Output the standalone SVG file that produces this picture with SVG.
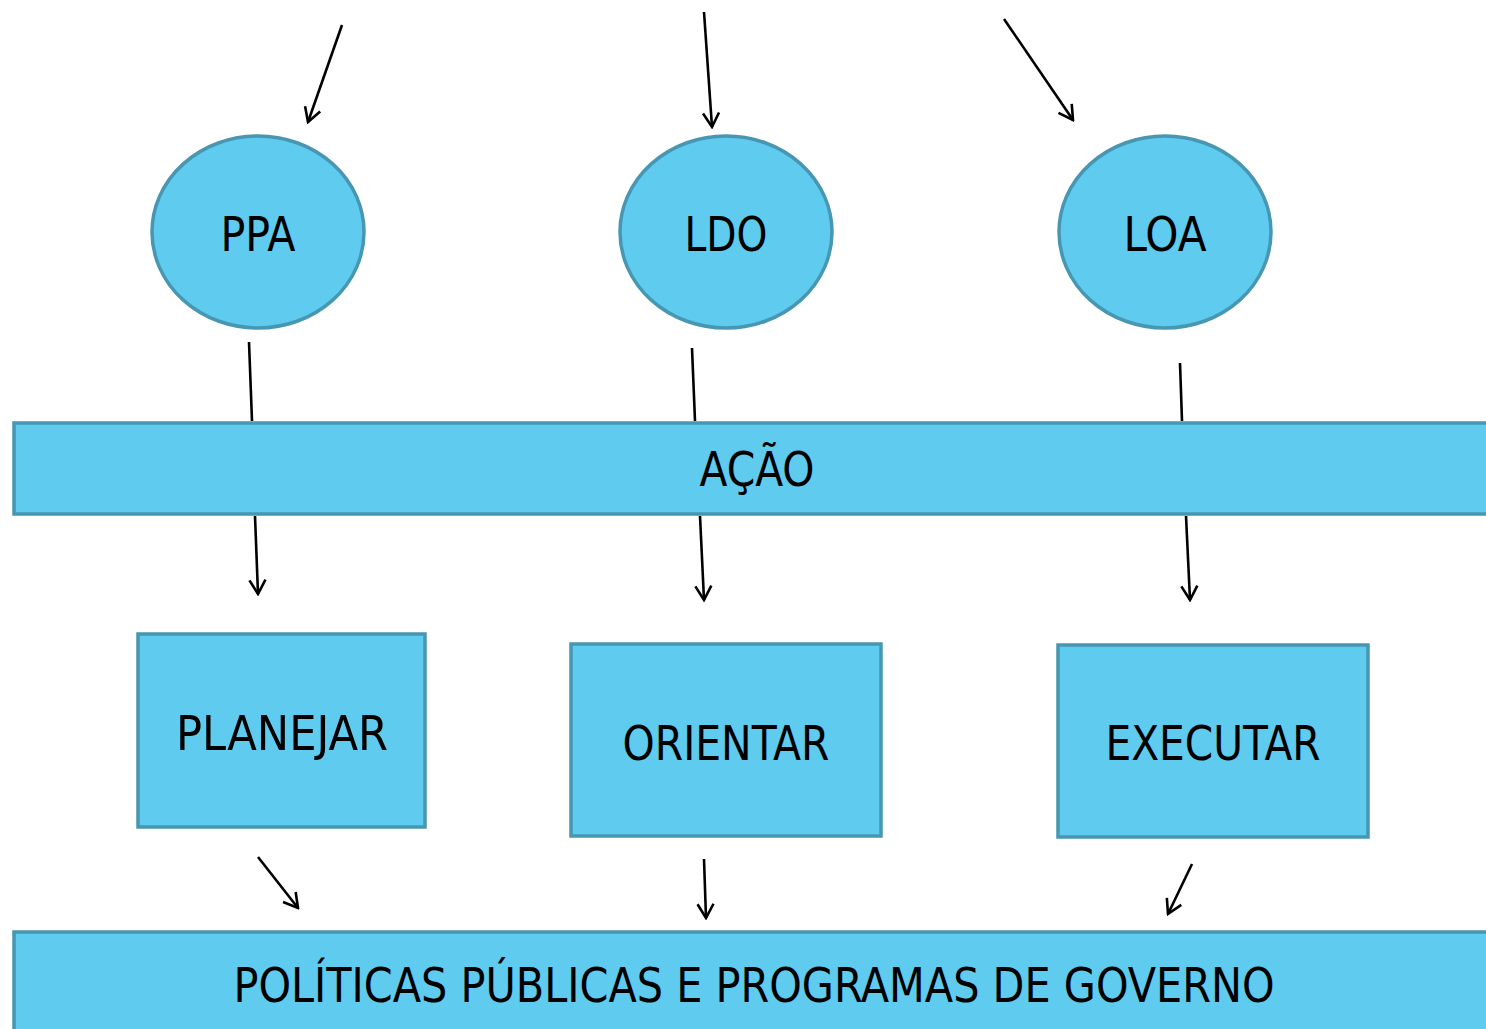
<svg xmlns="http://www.w3.org/2000/svg" width="1486" height="1029" viewBox="0 0 1486 1029">
<style>
.n{fill:#5ECBEF;stroke:#4797B3;stroke-width:3.5}
.t{font-family:"DejaVu Sans Condensed","DejaVu Sans",sans-serif;font-size:48px;fill:#000;text-anchor:middle}
.c{stroke:#000;stroke-width:2.6;fill:none}
</style>
<defs>
<marker id="a" viewBox="0 0 20 20" refX="18" refY="10" markerWidth="20" markerHeight="20" markerUnits="userSpaceOnUse" orient="auto">
<path d="M4,2 L18,10 L4,18" fill="none" stroke="#000" stroke-width="2.6"/>
</marker>
</defs>
<rect width="1486" height="1029" fill="#fff"/>
<g id="acao"><rect class="n" x="14" y="423" width="1480" height="91"/><text class="t" x="757" y="486" textLength="115" lengthAdjust="spacingAndGlyphs">AÇÃO</text></g>
<g id="politicas"><rect class="n" x="14" y="932" width="1480" height="110"/><text class="t" x="754" y="1002" textLength="1041" lengthAdjust="spacingAndGlyphs">POLÍTICAS PÚBLICAS E PROGRAMAS DE GOVERNO</text></g>
<g id="ppa"><ellipse class="n" cx="258" cy="232" rx="106" ry="96"/><text class="t" x="258" y="251" textLength="75" lengthAdjust="spacingAndGlyphs">PPA</text></g>
<g id="ldo"><ellipse class="n" cx="726" cy="232" rx="106" ry="96"/><text class="t" x="726" y="251" textLength="83" lengthAdjust="spacingAndGlyphs">LDO</text></g>
<g id="loa"><ellipse class="n" cx="1165" cy="232" rx="106" ry="96"/><text class="t" x="1165" y="251" textLength="83" lengthAdjust="spacingAndGlyphs">LOA</text></g>
<g id="planejar"><rect class="n" x="138" y="634" width="287" height="193"/><text class="t" x="282" y="750" textLength="212" lengthAdjust="spacingAndGlyphs">PLANEJAR</text></g>
<g id="orientar"><rect class="n" x="571" y="644" width="310" height="192"/><text class="t" x="726" y="760" textLength="207" lengthAdjust="spacingAndGlyphs">ORIENTAR</text></g>
<g id="executar"><rect class="n" x="1058" y="645" width="310" height="192"/><text class="t" x="1213" y="760" textLength="215" lengthAdjust="spacingAndGlyphs">EXECUTAR</text></g>
<g id="connectors">
<line class="c" x1="342" y1="25" x2="308" y2="122" marker-end="url(#a)"/>
<line class="c" x1="704" y1="12" x2="712" y2="127" marker-end="url(#a)"/>
<line class="c" x1="1004" y1="19" x2="1073" y2="120" marker-end="url(#a)"/>
<line class="c" x1="249" y1="342" x2="252" y2="421"/>
<line class="c" x1="692" y1="348" x2="695" y2="421"/>
<line class="c" x1="1180" y1="363" x2="1182" y2="421"/>
<line class="c" x1="255" y1="516" x2="258" y2="594" marker-end="url(#a)"/>
<line class="c" x1="700" y1="516" x2="704" y2="600" marker-end="url(#a)"/>
<line class="c" x1="1186" y1="516" x2="1190" y2="600" marker-end="url(#a)"/>
<line class="c" x1="258" y1="857" x2="298" y2="908" marker-end="url(#a)"/>
<line class="c" x1="704" y1="859" x2="706" y2="918" marker-end="url(#a)"/>
<line class="c" x1="1192" y1="864" x2="1168" y2="914" marker-end="url(#a)"/>
</g>
</svg>
